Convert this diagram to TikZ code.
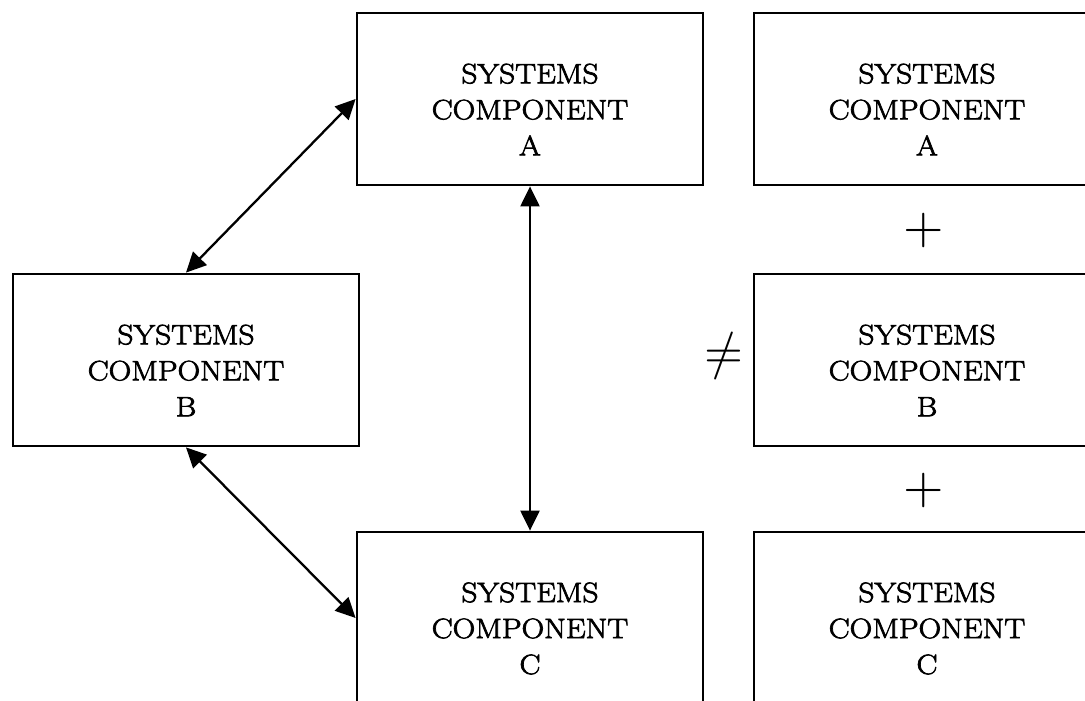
\documentclass[tikz,border=0pt]{standalone}
\usepackage{unicode-math}
\newfontfamily\boxfont{Latin Modern Roman}[FakeStretch=1.12, FakeBold=2.6]
\usetikzlibrary{arrows.meta}
\begin{document}
\begin{tikzpicture}[x=1pt,y=-1pt,
  sysbox/.style={draw, line width=2.8pt, minimum width=346pt, minimum height=172pt, inner sep=0pt},
  boxtext/.style={align=center, font=\boxfont\fontsize{28}{36}\selectfont, inner sep=0pt, yshift=-10.5pt},
  link/.style={line width=2.3pt, {Triangle[length=20pt,width=19pt]}-{Triangle[length=20pt,width=19pt]}},
  sign/.style={inner sep=0pt}]
\useasboundingbox (0,0) rectangle (1085,701);
\clip (0,0) rectangle (1085,701);

% left group: three interacting components
\node[sysbox] (A) at (530,99) {};
\node[sysbox] (B) at (186,360) {};
\node[sysbox] (C) at (530,618) {};
\node[boxtext] (tA) at (A.center) {SYSTEMS\\COMPONENT\\A};
\node[boxtext] (tB) at (B.center) {SYSTEMS\\COMPONENT\\B};
\node[boxtext] (tC) at (C.center) {SYSTEMS\\COMPONENT\\C};

\draw[link] (B.north) -- (A.west);
\draw[link] (B.south) -- (C.west);
\draw[link] (A.south) -- (C.north);

% right group: the simple sum of the components
\node[sysbox] (A2) at (927,99) {};
\node[sysbox] (B2) at (927,360) {};
\node[sysbox] (C2) at (927,618) {};
\node[boxtext] (tA2) at (A2.center) {SYSTEMS\\COMPONENT\\A};
\node[boxtext] (tB2) at (B2.center) {SYSTEMS\\COMPONENT\\B};
\node[boxtext] (tC2) at (C2.center) {SYSTEMS\\COMPONENT\\C};

\node[sign, font=\fontsize{52}{52}\selectfont] (plus1) at (924,230) {$+$};
\node[sign, font=\fontsize{52}{52}\selectfont] (plus2) at (924,490) {$+$};
\node[sign, font=\fontsize{50}{50}\selectfont] (neq) at (724,356) {$\neq$};
\end{tikzpicture}
\end{document}
